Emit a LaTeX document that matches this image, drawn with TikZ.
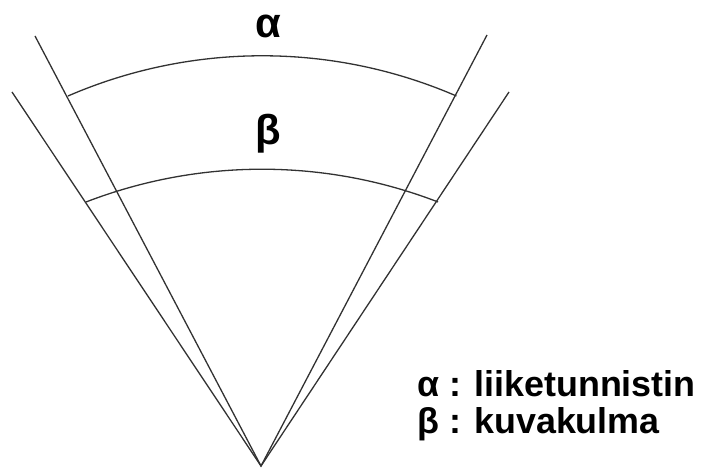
\documentclass[tikz,border=0pt]{standalone}
\usepackage{fontspec}
\setmainfont{Liberation Sans}
\definecolor{lineGray}{RGB}{50,50,50}

\begin{document}
\begin{tikzpicture}[x=1bp, y=1bp]
      \useasboundingbox (0,0) rectangle (706,468);

      \coordinate (apex) at (261,2);
      \coordinate (alphaL) at (35,432);
      \coordinate (alphaR) at (487,433);
      \coordinate (betaL) at (12,376);
      \coordinate (betaR) at (509,376);

      \draw[lineGray, line width=1.3bp] (alphaL) -- (apex) -- (alphaR);
      \draw[lineGray, line width=1.3bp] (betaL) -- (apex) -- (betaR);

      \draw[lineGray, line width=1.3bp] (68,372) arc (113.4:66.6:489);
      \draw[lineGray, line width=1.3bp] (86,266) arc (111.1:68.9:489);

      \node[anchor=base, inner sep=0pt] (alphaTxt) at (268,430) {\fontsize{42}{42}\selectfont\bfseries α};
      \node[anchor=base, inner sep=0pt] (betaTxt) at (268,323) {\fontsize{42}{42}\selectfont\bfseries β};

      \node[anchor=base west, inner sep=0pt] (legAlpha) at (417,71) {\fontsize{36}{36}\selectfont\bfseries α : liiketunnistin};
      \node[anchor=base west, inner sep=0pt] (legBeta) at (417,34) {\fontsize{36}{36}\selectfont\bfseries β : kuvakulma};
    \end{tikzpicture}
\end{document}
